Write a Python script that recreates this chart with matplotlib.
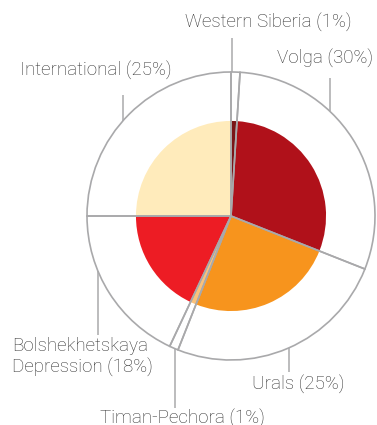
import matplotlib
matplotlib.use("Agg")
import matplotlib.pyplot as plt
import numpy as np

regions = ["Western Siberia", "Volga", "Urals", "Timan-Pechora",
           "Bolshekhetskaya\nDepression", "International"]
shares = [1, 30, 25, 1, 18, 25]
colors = ["#7a1518", "#b0111a", "#f7941d", "#fbc27a", "#ed1c24", "#ffebbb"]

W, H = 377, 425
CX, CY, R = 231, 216, 144  # pie centre and outer radius, pixels

fig = plt.figure(figsize=(W / 100, H / 100), dpi=100)
ax = fig.add_axes([0, 0, 1, 1])
ax.set_xlim(-CX / R, (W - CX) / R)
ax.set_ylim(-(H - CY) / R, CY / R)
ax.set_aspect("equal")
ax.axis("off")

edge = "#a9a9ab"
# white outer ring
ax.pie(shares, radius=1.0, startangle=90, counterclock=False,
       colors=["white"] * len(shares), wedgeprops=dict(linewidth=0))
# coloured inner pie
ax.pie(shares, radius=0.66, startangle=90, counterclock=False,
       colors=colors, wedgeprops=dict(linewidth=0))
# wedge outlines on top
ax.pie(shares, radius=1.0, startangle=90, counterclock=False,
       colors=["none"] * len(shares),
       wedgeprops=dict(linewidth=1.2, edgecolor=edge, facecolor="none"))
ax.set_xlim(-CX / R, (W - CX) / R)
ax.set_ylim(-(H - CY) / R, CY / R)


def px(x, y):
    return (x - CX) / R, (CY - y) / R


# leader lines: x position (px), end y (px); text anchor (px) and alignment
label_layout = [
    (232, 38, (268, 22), "center"),
    (330, 78, (325, 58), "center"),
    (289, 372, (298, 384), "center"),
    (175, 408, (182, 418), "center"),
    (98, 335, (12, 357), "left"),
    (123, 95, (96, 70), "center"),
]

for name, share, (lx, ly, (tx, ty), ha) in zip(regions, shares, label_layout):
    dx = (lx - CX) / R
    dy = np.sqrt(max(1 - dx ** 2, 0))
    y_end = (CY - ly) / R
    y_start = dy if y_end > 0 else -dy
    ax.plot([dx, dx], [y_start, y_end], color=edge, lw=1.1,
            solid_capstyle="butt")
    x, y = px(tx, ty)
    ax.text(x, y, f"{name} ({share}%)", ha=ha, va="center",
            fontsize=13.5, color="#333333", family="Roboto",
            fontweight="light", linespacing=1.15)

fig.savefig("out.png", dpi=100)
